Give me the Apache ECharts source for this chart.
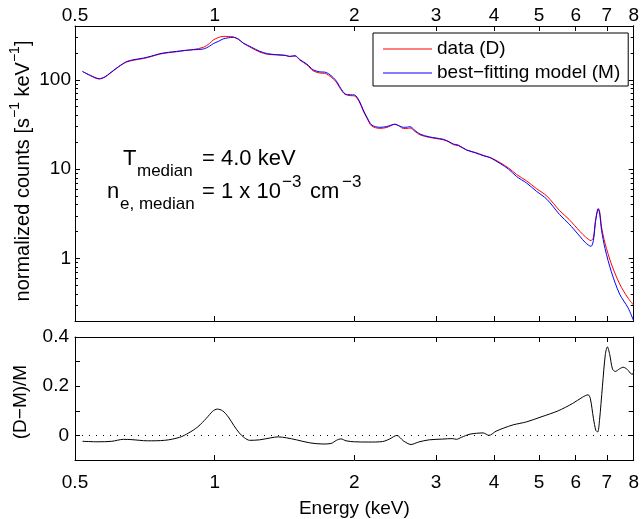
<!DOCTYPE html>
<html>
<head>
<meta charset="utf-8">
<script src="https://cdn.jsdelivr.net/npm/echarts@6/dist/echarts.min.js"></script>
<style>
html,body{margin:0;padding:0;background:#fff;}
#c{width:642px;height:519px;}
</style>
</head>
<body>
<div id="c"></div>
<script>
// ---- data ----
const energyTop = [0.519,0.54,0.564,0.58,0.595,0.62,0.646,0.67,0.702,0.73,0.762,0.795,0.828,0.86,0.899,0.945,0.975,0.993,1.02,1.043,1.07,1.096,1.125,1.152,1.2,1.252,1.3,1.36,1.42,1.45,1.49,1.526,1.58,1.63,1.68,1.74,1.82,1.87,1.91,1.96,2.0,2.05,2.09,2.13,2.18,2.27,2.35,2.445,2.5,2.55,2.6,2.635,2.7,2.77,2.9,3.0,3.11,3.2,3.27,3.35,3.49,3.65,3.8,3.92,4.0,4.12,4.3,4.47,4.7,4.94,5.2,5.54,5.8,6.12,6.3,6.47,6.55,6.62,6.71,6.76,6.82,6.94,7.16,7.46,7.78,8.0];
const modelCounts = [124,112,103,108,119,140,160,168,175,184,196,203,208,213,217,221,238,254,270,287,295,299,285,258,232,208,196,191,188,183,186,168,150,129.5,123,120.8,100,80,69.6,68,67.8,58,46,38,31.2,29.4,30,31.8,30.5,29.4,29.5,29.9,27.2,24.7,23,22.3,21.6,20.3,19.1,18.6,16.4,15.2,14.1,13.5,12.7,11.6,10.0,8.3,7.0,5.65,4.6,3.1,2.45,1.78,1.5,1.37,1.6,2.6,3.6,3.1,2.07,1.29,0.71,0.40,0.28,0.2];
const dataCounts  = [124,111,102,107,118,139,158,166,173,182,194,201,206,212,218,231,255,279,298,306,305,302,284,257,228,204,193,190,187,182,185,166,147,126,119.5,116.5,97,78,68.7,66.5,66.1,56.5,44.8,37,30.4,28.6,29.3,31.8,30.3,28.5,28.5,28.9,26.5,24.2,22.7,22.0,21.3,20.1,18.8,18.3,16.4,15.35,14.25,13.5,12.9,11.85,10.3,8.75,7.4,6.05,5.0,3.43,2.75,2.02,1.74,1.59,1.72,2.7,3.62,3.3,2.25,1.48,0.87,0.52,0.36,0.30];

const energyRes = [0.519,0.56,0.6,0.636,0.66,0.717,0.78,0.84,0.879,0.92,0.96,0.99,1.013,1.04,1.07,1.1,1.13,1.16,1.19,1.25,1.32,1.37,1.43,1.5,1.6,1.71,1.78,1.83,1.87,1.92,2.0,2.15,2.3,2.38,2.47,2.55,2.65,2.75,2.9,3.1,3.25,3.32,3.4,3.55,3.79,3.9,4.04,4.2,4.4,4.7,5.05,5.5,5.91,6.2,6.38,6.45,6.55,6.63,6.69,6.75,6.85,6.95,7.02,7.1,7.2,7.3,7.45,7.59,7.75,7.9,7.97,8.0];
const residual  = [-0.024,-0.026,-0.024,-0.016,-0.017,-0.022,-0.02,-0.008,0.01,0.035,0.07,0.098,0.107,0.1,0.075,0.04,0.01,-0.01,-0.02,-0.018,-0.01,-0.006,-0.01,-0.018,-0.03,-0.035,-0.033,-0.02,-0.014,-0.022,-0.026,-0.027,-0.025,-0.015,0.0,-0.022,-0.037,-0.027,-0.018,-0.015,-0.013,-0.016,-0.008,0.005,0.01,0.0,0.017,0.03,0.043,0.055,0.075,0.1,0.13,0.155,0.165,0.15,0.07,0.02,0.014,0.06,0.2,0.33,0.36,0.33,0.27,0.26,0.27,0.277,0.268,0.25,0.249,0.268];

const xTicks = [0.5,1,2,3,4,5,6,7,8];
const yMajorTicks = [1,10,100];
const yMinorTicks = [0.2,0.3,0.4,0.5,0.6,0.7,0.8,0.9,2,3,4,5,6,7,8,9,20,30,40,50,60,70,80,90,200,300,400];
const resLabelTicks = [0,0.2,0.4];
const resTicks = [-0.1,0,0.1,0.2,0.3,0.4];

const FONT = 'Liberation Sans';
const BLACK = '#000';

function xAx(grid, pos, showLabels) {
  return {
    type: 'log', logBase: 10, gridIndex: grid, position: pos, min: 0.5, max: 8,
    axisLine: {show: true, onZero: false, lineStyle: {color: BLACK, width: 1}},
    axisTick: {show: true, inside: true, length: 5, customValues: xTicks, lineStyle: {color: BLACK}},
    axisLabel: {show: showLabels, customValues: xTicks, formatter: v => String(+v.toFixed(2)),
      color: BLACK, fontSize: 19, fontFamily: FONT, margin: pos === 'top' ? 1 : 13},
    splitLine: {show: false}, minorTick: {show: false}
  };
}
function yLogAx(pos, ticks, len, showLabels) {
  return {
    type: 'log', logBase: 10, gridIndex: 0, position: pos, min: 0.2, max: 400,
    axisLine: {show: showLabels || pos === 'right', onZero: false, lineStyle: {color: BLACK, width: 1}},
    axisTick: {show: true, inside: true, length: len, customValues: ticks, lineStyle: {color: BLACK}},
    axisLabel: {show: showLabels, customValues: yMajorTicks, formatter: v => String(Math.round(v)),
      color: BLACK, fontSize: 19, fontFamily: FONT, margin: 4},
    splitLine: {show: false}, minorTick: {show: false}
  };
}
function yResAx(pos, showLabels) {
  return {
    type: 'value', gridIndex: 1, position: pos, min: -0.1, max: 0.4, interval: 0.1,
    axisLine: {show: true, onZero: false, lineStyle: {color: BLACK, width: 1}},
    axisTick: {show: true, inside: true, length: 5, customValues: resTicks, lineStyle: {color: BLACK}},
    axisLabel: {show: showLabels, customValues: resLabelTicks,
      formatter: v => (Math.abs(v) < 1e-9 ? '0' : v.toFixed(1)),
      color: BLACK, fontSize: 19, fontFamily: FONT, margin: 6},
    splitLine: {show: false}
  };
}

const chart = echarts.init(document.getElementById('c'), null, {renderer: 'canvas'});
const option = {
  animation: false,
  backgroundColor: '#fff',
  textStyle: {fontFamily: FONT},
  grid: [
    {left: 75, top: 26, width: 559, height: 295, containLabel: false},
    {left: 75, top: 337, width: 559, height: 131, containLabel: false}
  ],
  xAxis: [
    xAx(0, 'top', true),
    xAx(0, 'bottom', false),
    Object.assign(xAx(1, 'bottom', true), {name: 'Energy (keV)', nameLocation: 'middle', nameGap: 39,
      nameTextStyle: {color: BLACK, fontSize: 19, fontFamily: FONT}}),
    xAx(1, 'top', false)
  ],
  yAxis: [
    yLogAx('left', yMajorTicks, 5, true),
    yLogAx('left', yMinorTicks, 3, false),
    yLogAx('right', yMajorTicks, 5, false),
    yLogAx('right', yMinorTicks, 3, false),
    yResAx('left', true),
    yResAx('right', false)
  ],
  legend: {
    orient: 'vertical', left: 373, top: 33,
    data: [
      {name: 'data (D)', icon: 'rect', itemStyle: {color: '#ff0000'}},
      {name: 'best\u2212fitting model (M)', icon: 'rect', itemStyle: {color: '#0000ff'}}
    ],
    itemWidth: 49, itemHeight: 1, itemGap: 4,
    padding: [6, 8, 3, 10],
    borderColor: BLACK, borderWidth: 1, backgroundColor: '#fff', borderRadius: 0,
    textStyle: {color: BLACK, fontSize: 19, fontFamily: FONT, lineHeight: 20},
    selectedMode: false
  },
  series: [
    {
      name: 'data (D)', type: 'line', xAxisIndex: 0, yAxisIndex: 0,
      data: energyTop.map((e, i) => [e, dataCounts[i]]),
      symbol: 'none', smooth: 0.3, lineStyle: {color: '#ff0000', width: 1}, itemStyle: {color: '#ff0000'}, z: 3
    },
    {
      name: 'best\u2212fitting model (M)', type: 'line', xAxisIndex: 0, yAxisIndex: 0,
      data: energyTop.map((e, i) => [e, modelCounts[i]]),
      symbol: 'none', smooth: 0.3, lineStyle: {color: '#0000ff', width: 1}, itemStyle: {color: '#0000ff'}, z: 4
    },
    {
      name: 'residual', type: 'line', xAxisIndex: 2, yAxisIndex: 4,
      data: energyRes.map((e, i) => [e, residual[i]]),
      symbol: 'none', smooth: 0.3, lineStyle: {color: BLACK, width: 1}, z: 4,
      markLine: {
        silent: true, symbol: ['none', 'none'], label: {show: false},
        lineStyle: {type: [1, 6], color: BLACK, width: 1},
        data: [{yAxis: 0}]
      }
    }
  ],
  graphic: [
    {type: 'text', x: 123, y: 159, style: {text: 'T', fontSize: 22, fontFamily: FONT, fill: BLACK, verticalAlign: 'middle'}},
    {type: 'text', x: 137, y: 171, style: {text: 'median', fontSize: 17, fontFamily: FONT, fill: BLACK, verticalAlign: 'middle'}},
    {type: 'text', x: 202, y: 159, style: {text: '= 4.0 keV', fontSize: 22, fontFamily: FONT, fill: BLACK, verticalAlign: 'middle'}},
    {type: 'text', x: 107, y: 192, style: {text: 'n', fontSize: 22, fontFamily: FONT, fill: BLACK, verticalAlign: 'middle'}},
    {type: 'text', x: 120, y: 204, style: {text: 'e, median', fontSize: 17, fontFamily: FONT, fill: BLACK, verticalAlign: 'middle'}},
    {type: 'text', x: 202, y: 192, style: {text: '= 1 x 10', fontSize: 22, fontFamily: FONT, fill: BLACK, verticalAlign: 'middle'}},
    {type: 'text', x: 282, y: 182, style: {text: '\u22123', fontSize: 17, fontFamily: FONT, fill: BLACK, verticalAlign: 'middle'}},
    {type: 'text', x: 310, y: 192, style: {text: 'cm', fontSize: 22, fontFamily: FONT, fill: BLACK, verticalAlign: 'middle'}},
    {type: 'text', x: 342, y: 182, style: {text: '\u22123', fontSize: 17, fontFamily: FONT, fill: BLACK, verticalAlign: 'middle'}},
    {
      type: 'text', x: 21, y: 171, rotation: Math.PI / 2,
      style: {
        text: '{m|normalized counts [s}{s|\u22121}{m| keV}{s|\u22121}{m|]}',
        align: 'center', verticalAlign: 'middle', fill: BLACK,
        rich: {
          m: {fontSize: 20, fontFamily: FONT, lineHeight: 25, verticalAlign: 'bottom', fill: BLACK},
          s: {fontSize: 14, fontFamily: FONT, lineHeight: 15, verticalAlign: 'top', fill: BLACK}
        }
      }
    },
    {
      type: 'text', x: 21, y: 402, rotation: Math.PI / 2,
      style: {text: '(D\u2212M)/M', fontSize: 19, fontFamily: FONT, fill: BLACK, align: 'center', verticalAlign: 'middle'}
    }
  ]
};
chart.setOption(option);
</script>
</body>
</html>
